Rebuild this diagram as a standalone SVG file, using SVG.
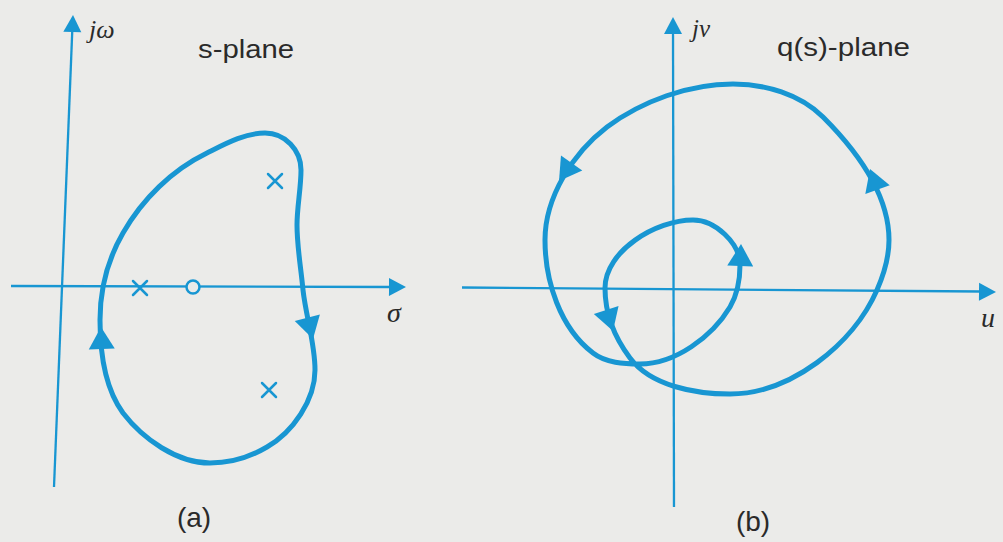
<svg xmlns="http://www.w3.org/2000/svg" xmlns:xlink="http://www.w3.org/1999/xlink" width="1003" height="542" viewBox="0 0 1003 542">
<style>
.axis{fill:none;stroke:#1896d2;stroke-width:2.3}
.curve{fill:none;stroke:#1896d2;stroke-width:5;stroke-linejoin:round}
.mark{fill:none;stroke:#1896d2;stroke-width:2.5;stroke-linecap:round}
.head{fill:#1896d2}
.sym{font-family:"Liberation Serif","DejaVu Serif",serif;font-style:italic;fill:#2a2a2a}
.lbl{font-family:"Liberation Sans",Arial,sans-serif;fill:#2a2a2a}
</style>
<defs>
<polygon id="ah" points="0,0 -22,-13 -22,13"/>
<polygon id="axh" points="0,0 -17,-9 -17,9"/>
</defs>
<rect width="1003" height="542" fill="#ebebe9"/>
<g id="plane-a">
<g id="axes-a">
<line class="axis" x1="54" y1="487" x2="72.3" y2="30"/>
<use href="#axh" class="head" transform="translate(73,15) rotate(-87.7)"/>
<line class="axis" x1="11" y1="286" x2="392" y2="287"/>
<use href="#axh" class="head" transform="translate(406,287) rotate(0.15)"/>
</g>
<g id="contour-a">
<path class="curve" d="M100,320 C100,290 108,259 123,233 C142.5,199 172,170 207,153 C225,144 245,133 265,133 C285,133 301,150 301,170 C301,188 297,207 297,225 C297,247 301,268 303,290 C306,317 315,343 315,370 C315,400 293,432 267,447 C250,457 230,463 210,463 C177,463 143,439 123,413 C104,387 100,352 100,320 Z"/>
<use href="#ah" class="head" transform="translate(101,327) rotate(-92)"/>
<use href="#ah" class="head" transform="translate(313,339) rotate(75)"/>
</g>
<g id="pole-1"><path class="mark" d="M133,281 L147,295 M133,295 L147,281"/></g>
<g id="zero-1"><circle cx="193" cy="287" r="6.5" fill="#ebebe9" stroke="#1896d2" stroke-width="2.5"/></g>
<g id="pole-2"><path class="mark" d="M268,174 L282,188 M268,188 L282,174"/></g>
<g id="pole-3"><path class="mark" d="M262,383 L276,397 M262,397 L276,383"/></g>
<text class="sym" x="89" y="38" font-size="26">jω</text>
<text class="lbl" x="198" y="58" font-size="26" textLength="96" lengthAdjust="spacingAndGlyphs">s-plane</text>
<text class="sym" x="387" y="322" font-size="28">σ</text>
<text class="lbl" x="194" y="527" font-size="28" text-anchor="middle">(a)</text>
</g>
<g id="plane-b">
<g id="axes-b">
<line class="axis" x1="674" y1="507" x2="673" y2="32"/>
<use href="#axh" class="head" transform="translate(673,17) rotate(-90.1)"/>
<line class="axis" x1="462" y1="287.5" x2="981" y2="291.5"/>
<use href="#axh" class="head" transform="translate(996,292) rotate(0.45)"/>
</g>
<g id="contour-b">
<path class="curve" d="M605,288 C605,313 615,338 630,358 C651,386 695,394 730,394 C790,394 853,345 877,290 C884,274 889,257 889,240 C889,193 856,150 823,117 C800,94 765,84 733,84 C689,84 642,101 607,127 C573,153 545,197 545,240 C545,281 560,328 593,353 C606,363 624,364 640,364 C675,364 712,337 730,307 C737,295 740,279 740,265 C740,243 715,220 693,220 C656,220 605,251 605,288 Z"/>
<use href="#ah" class="head" transform="translate(870,169) rotate(-110)"/>
<use href="#ah" class="head" transform="translate(559,181) rotate(125)"/>
<use href="#ah" class="head" transform="translate(741,244) rotate(-88)"/>
<use href="#ah" class="head" transform="translate(613,331) rotate(72)"/>
</g>
<text class="sym" x="692" y="37" font-size="25">jv</text>
<text class="lbl" x="777" y="56" font-size="26" textLength="133" lengthAdjust="spacingAndGlyphs">q(s)-plane</text>
<text class="sym" x="981" y="327" font-size="28">u</text>
<text class="lbl" x="753" y="531" font-size="28" text-anchor="middle">(b)</text>
</g>
</svg>
